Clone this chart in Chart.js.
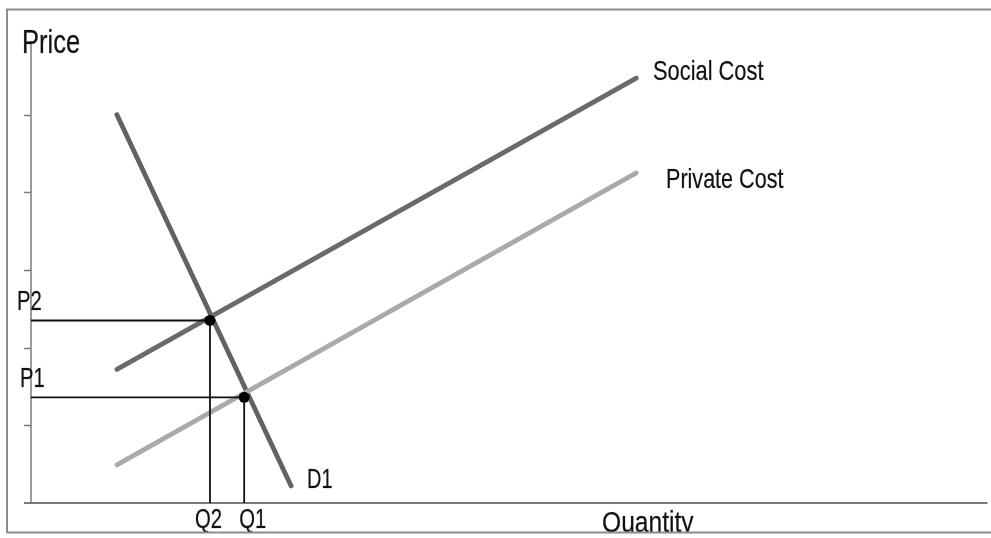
<!DOCTYPE html>
<html>
<head>
<meta charset="utf-8">
<script src="https://cdn.jsdelivr.net/npm/chart.js@4.4.1/dist/chart.umd.min.js"></script>
<style>
  html, body { margin: 0; padding: 0; background: #fff; }
  canvas { display: block; }
</style>
</head>
<body>
<canvas id="chart" width="991" height="538"></canvas>
<script>
// Curves (x = quantity, y = price), endpoints
const demandD1 = [[1.08, 5.0], [3.27, 0.22]];
const socialCost = [[1.08, 1.72], [7.61, 5.47]];
const privateCost = [[1.08, 0.49], [7.61, 4.25]];

// Equilibria: [Q, P]
const equilibria = [[2.25, 2.35], [2.68, 1.36]];
const eqNames = [['Q2', 'P2'], ['Q1', 'P1']];

// Axis ranges and tick marks on the price axis
const xRange = [0, 12];
const yRange = [0, 6];
const yTicks = [1, 2, 3, 4, 5];

const toPts = arr => arr.map(p => ({ x: p[0], y: p[1] }));

// guide lines from each equilibrium to the axes
const guideSets = [];
equilibria.forEach(e => {
    guideSets.push({
        data: [{ x: 0, y: e[1] }, { x: e[0], y: e[1] }, { x: e[0], y: 0 }],
        showLine: true,
        borderColor: '#111',
        borderWidth: 1.8,
        pointRadius: 0,
        fill: false,
        order: 1
    });
});

const backgroundAndFrame = {
    id: 'frame',
    beforeDraw(chart) {
        const ctx = chart.ctx;
        ctx.save();
        ctx.fillStyle = '#fff';
        ctx.fillRect(0, 0, chart.width, chart.height);
        ctx.restore();
    },
    beforeDatasetsDraw(chart) {
        // axes and tick marks, placed through the scales
        const ctx = chart.ctx;
        const xs = chart.scales.x, ys = chart.scales.y;
        const x0 = xs.getPixelForValue(0);
        const y0 = ys.getPixelForValue(0);
        ctx.save();
        ctx.strokeStyle = '#7a7a7a';
        ctx.lineWidth = 1.5;
        ctx.beginPath();
        ctx.moveTo(x0, ys.getPixelForValue(5.95));
        ctx.lineTo(x0, y0);
        ctx.stroke();
        yTicks.forEach(t => {
            const py = Math.round(ys.getPixelForValue(t)) + 0.5;
            ctx.beginPath();
            ctx.moveTo(x0 - 7, py);
            ctx.lineTo(x0, py);
            ctx.stroke();
        });
        ctx.lineWidth = 2;
        ctx.beginPath();
        ctx.moveTo(x0 - 7, y0);
        ctx.lineTo(xs.getPixelForValue(xRange[1]) + 2, y0);
        ctx.stroke();
        ctx.restore();
    },
    afterDraw(chart) {
        const ctx = chart.ctx;
        const xs = chart.scales.x, ys = chart.scales.y;
        const label = (t, x, y, size, sx) => {
            ctx.save();
            ctx.font = size + 'px "Liberation Sans", Arial, sans-serif';
            ctx.fillStyle = '#111';
            ctx.strokeStyle = 'rgba(17,17,17,0.35)';
            ctx.lineWidth = 0.6;
            ctx.textBaseline = 'alphabetic';
            ctx.translate(x, y);
            ctx.scale(sx, 1);
            ctx.fillText(t, 0, 0);
            ctx.strokeText(t, 0, 0);
            ctx.restore();
        };
        ctx.save();
        ctx.beginPath();
        ctx.rect(0, 0, chart.width, 532);
        ctx.clip();
        label('Price', 22, 53, 34, 0.75);
        label('Quantity', 602, 532, 30, 0.82);
        label('Social Cost', 653, 80, 28, 0.78);
        label('Private Cost', 666, 188, 28, 0.77);
        label('D1', 307, 488, 27, 0.74);
        equilibria.forEach((e, i) => {
            const px = xs.getPixelForValue(e[0]);
            const py = ys.getPixelForValue(e[1]);
            label(eqNames[i][1], i === 0 ? 17 : 20, py - 10, 27, 0.75);
            label(eqNames[i][0], i === 0 ? px - 15 : px - 5, 528, 27, 0.75);
        });
        ctx.restore();

        // outer grey frame
        ctx.save();
        ctx.strokeStyle = '#8c8c8c';
        ctx.lineWidth = 2;
        ctx.strokeRect(7, 9.5, chart.width + 10, 523);
        ctx.restore();
    }
};

new Chart(document.getElementById('chart'), {
    type: 'scatter',
    data: {
        datasets: [
            {
                data: toPts(privateCost),
                showLine: true,
                borderColor: '#aaaaaa',
                borderWidth: 4.8,
                borderCapStyle: 'round',
                pointRadius: 0,
                order: 2
            },
            {
                data: toPts(socialCost),
                showLine: true,
                borderColor: '#6a6a6a',
                borderWidth: 4.8,
                borderCapStyle: 'round',
                pointRadius: 0,
                order: 2
            },
            {
                data: toPts(demandD1),
                showLine: true,
                borderColor: '#626262',
                borderWidth: 4.8,
                borderCapStyle: 'round',
                pointRadius: 0,
                order: 2
            },
            ...guideSets,
            {
                data: toPts(equilibria),
                showLine: false,
                pointRadius: 5.5,
                pointBackgroundColor: '#000',
                pointBorderColor: '#000',
                pointBorderWidth: 0,
                order: 0
            }
        ]
    },
    options: {
        responsive: false,
        animation: false,
        devicePixelRatio: 1,
        layout: { padding: { left: 31, top: 37, right: 1, bottom: 35 } },
        plugins: {
            legend: { display: false },
            tooltip: { enabled: false }
        },
        scales: {
            x: { type: 'linear', min: xRange[0], max: xRange[1], display: false },
            y: { type: 'linear', min: yRange[0], max: yRange[1], display: false }
        }
    },
    plugins: [backgroundAndFrame]
});
</script>
</body>
</html>
